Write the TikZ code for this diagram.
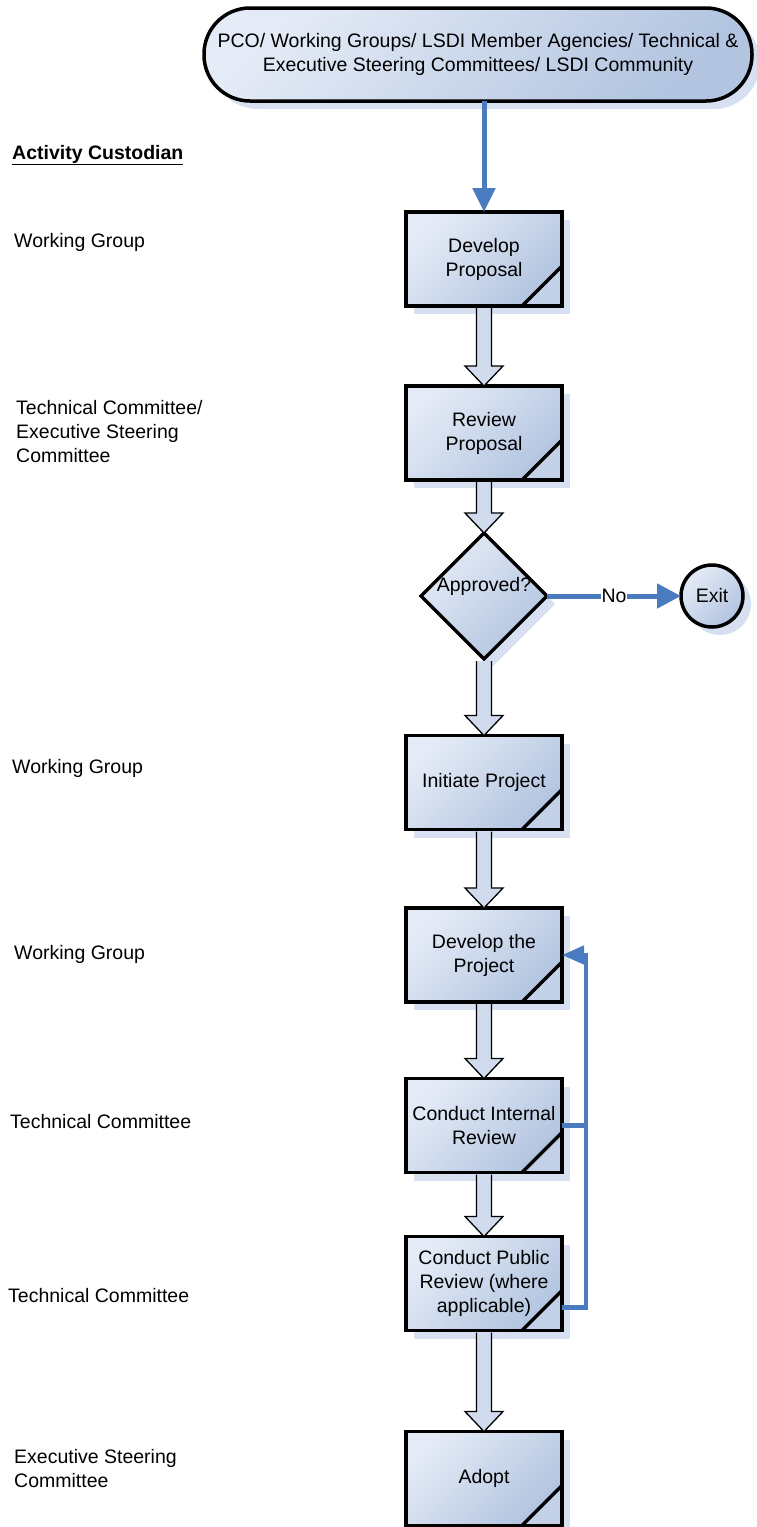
\documentclass[tikz,border=0pt]{standalone}
\usepackage{fontspec}
\setmainfont{Liberation Sans}
\usetikzlibrary{shapes.geometric,arrows.meta,shadows,calc}
\definecolor{bA}{HTML}{E4EBF6}
\definecolor{bB}{HTML}{B2C4E0}
\definecolor{shd}{HTML}{D6E0F1}
\definecolor{arrfill}{HTML}{D0DCEE}
\definecolor{foldD}{HTML}{4F6390}
\definecolor{foldL}{HTML}{C2D0E8}
\definecolor{bl}{RGB}{74,122,192}
\tikzset{
  every node/.style={font=\fontsize{19.5}{24}\selectfont},
  shadedfill/.style={top color=bA, bottom color=bB, shading angle=45},
  dshadow/.style={drop shadow={shadow xshift=8pt, shadow yshift=-8pt, fill=shd, opacity=1}},
  procbox/.style={rectangle, draw=black, line width=3.5pt, shadedfill, dshadow,
    minimum width=156pt, minimum height=94pt, align=center, outer sep=0pt, inner sep=2pt,
    path picture={
      \shade[top color=foldD, bottom color=foldL, shading angle=45] ([xshift=-40pt]path picture bounding box.south east) -- (path picture bounding box.south east) -- ([yshift=40pt]path picture bounding box.south east) -- cycle;
      \draw[line width=3.5pt] ([xshift=-40pt]path picture bounding box.south east) -- ([yshift=40pt]path picture bounding box.south east);}},
  decision/.style={diamond, aspect=1, draw=black, line width=3.5pt, shadedfill, dshadow,
    minimum width=126pt, minimum height=126pt, inner sep=0pt, outer sep=0pt},
  termcircle/.style={circle, draw=black, line width=3.5pt, shadedfill, dshadow,
    minimum size=62pt, inner sep=0pt, outer sep=0pt},
  topbox/.style={rectangle, rounded corners=46pt, draw=black, line width=3.5pt, shadedfill, dshadow,
    minimum width=548pt, minimum height=93pt, align=center, outer sep=0pt},
  custlabel/.style={anchor=west, align=left, inner sep=0pt},
  barrow/.style={draw=black, line width=1.3pt, fill=arrfill, line join=miter},
  blarrow/.style={draw=bl, line width=5pt, -{Triangle[length=24pt,width=22pt]}},
  fbline/.style={draw=bl, line width=4.5pt, line join=miter},
}
\newcommand\blockarr[2]{%
  \filldraw[barrow] let \p1=(#1.south), \p2=(#2.north) in
    (\x1-7.5pt,\y1-2pt) -- (\x1-7.5pt,\y2+20pt) -- (\x1-19pt,\y2+20pt) -- (\x1,\y2)
    -- (\x1+19pt,\y2+20pt) -- (\x1+7.5pt,\y2+20pt) -- (\x1+7.5pt,\y1-2pt);
}
\begin{document}
\begin{tikzpicture}[x=1pt,y=-1pt]
\useasboundingbox (0,0) rectangle (756,1527);

% top
\node[topbox] (top) at (478,54.5) {PCO/ Working Groups/ LSDI Member Agencies/ Technical \&\\Executive Steering Committees/ LSDI Community};

% process
\node[procbox] (dp)  at (484,259)    {Develop\\Proposal};
\node[procbox] (rp)  at (484,433)    {Review\\Proposal};
\node[decision] (dia) at (484,596)   {\smash{\raisebox{5pt}{Approved?}}};
\node[termcircle] (exit) at (712,596) {Exit};
\node[procbox] (ip)  at (484,782.5)  {Initiate Project};
\node[procbox] (dtp) at (484,955)    {Develop the\\Project};
\node[procbox] (cir) at (484,1125.5) {Conduct Internal\\Review};
\node[procbox] (cpr) at (484,1283.5) {Conduct Public\\Review (where\\applicable)};
\node[procbox] (ad)  at (484,1478.5) {Adopt};

% labels
\node[custlabel] (lac) at (12,155) {\underline{\textbf{Activity Custodian}}};
\node[custlabel] (l1) at (14,242) {Working Group};
\node[custlabel] (l2) at (16,432) {Technical Committee/\\Executive Steering\\Committee};
\node[custlabel] (l3) at (12,768) {Working Group};
\node[custlabel] (l4) at (14,954) {Working Group};
\node[custlabel] (l5) at (10,1122) {Technical Committee};
\node[custlabel] (l6) at (8,1296) {Technical Committee};
\node[custlabel] (l7) at (14,1468.5) {Executive Steering\\Committee};

% connectors
\draw[blarrow] (top.south -| dp.north) -- (dp.north);
\blockarr{dp}{rp}
\blockarr{rp}{dia}
\blockarr{dia}{ip}
\blockarr{ip}{dtp}
\blockarr{dtp}{cir}
\blockarr{cir}{cpr}
\blockarr{cpr}{ad}

\draw[blarrow, -{Triangle[length=24pt,width=24pt]}] (dia.east) -- node[fill=white, inner sep=1pt] {No} (exit.west);

\draw[fbline] (cir.east) -- ++(24,0) coordinate (fbi);
\draw[fbline, -{Triangle[length=22pt,width=18pt]}] ([yshift=-24pt]cpr.east) -- ++(24,0) coordinate (fbb) |- (dtp.east);
\end{tikzpicture}
\end{document}
